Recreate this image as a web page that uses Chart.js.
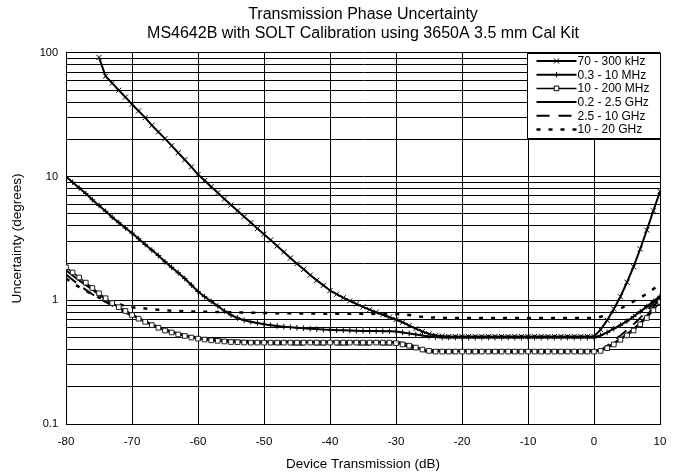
<!DOCTYPE html>
<html><head><meta charset="utf-8">
<script src="https://cdn.jsdelivr.net/npm/chart.js@4/dist/chart.umd.min.js"></script>
<style>html,body{margin:0;padding:0;background:#fff}canvas{display:block}</style>
</head><body>
<canvas id="c" width="678" height="476"></canvas>
<script>
const titleLines = ['Transmission Phase Uncertainty', 'MS4642B with SOLT Calibration using 3650A 3.5 mm Cal Kit'];
const xAxisTitle = 'Device Transmission (dB)';
const yAxisTitle = 'Uncertainty (degrees)';
const seriesNames = ['70 - 300 kHz', '0.3 - 10 MHz', '10 - 200 MHz', '0.2 - 2.5 GHz', '2.5 - 10 GHz', '10 - 20 GHz'];
const yTickValues = [0.1,0.2,0.3,0.4,0.5,0.6,0.7,0.8,0.9,1,2,3,4,5,6,7,8,9,10,20,30,40,50,60,70,80,90,100];
const yTickLabels = [0.1, 1, 10, 100];

// 1 dB grid used by the marker series
const dB = [-80,-79,-78,-77,-76,-75,-74,-73,-72,-71,-70,-69,-68,-67,-66,-65,-64,-63,-62,-61,
  -60,-59,-58,-57,-56,-55,-54,-53,-52,-51,-50,-49,-48,-47,-46,-45,-44,-43,-42,-41,
  -40,-39,-38,-37,-36,-35,-34,-33,-32,-31,-30,-29,-28,-27,-26,-25,-24,-23,-22,-21,
  -20,-19,-18,-17,-16,-15,-14,-13,-12,-11,-10,-9,-8,-7,-6,-5,-4,-3,-2,-1,
  0,1,2,3,4,5,6,7,8,9,10];

const kHz300 = [null,null,null,null,null,92,65,57,50,44,
  38.5,34,30,26,23,20.3,17.8,15.6,13.7,12,
  10.4,9.3,8.3,7.4,6.6,5.9,5.3,4.75,4.25,3.8,
  3.42,3.07,2.75,2.46,2.2,1.98,1.78,1.6,1.45,1.32,
  1.2,1.12,1.05,0.99,0.935,0.885,0.84,0.8,0.765,0.73,
  0.7,0.665,0.625,0.59,0.56,0.535,0.52,0.515,0.51,0.51,
  0.51,0.51,0.51,0.51,0.51,0.51,0.51,0.51,0.51,0.51,
  0.51,0.51,0.51,0.51,0.51,0.51,0.51,0.51,0.51,0.51,
  0.51,0.58,0.69,0.85,1.07,1.4,1.87,2.6,3.7,5.3,7.6];

const MHz10 = [10,9.0,8.1,7.3,6.5,5.85,5.25,4.7,4.25,3.85,
  3.5,3.15,2.83,2.55,2.3,2.05,1.85,1.67,1.5,1.33,
  1.18,1.07,0.98,0.9,0.82,0.76,0.72,0.69,0.67,0.655,
  0.64,0.63,0.62,0.612,0.605,0.6,0.595,0.59,0.585,0.58,
  0.577,0.574,0.572,0.57,0.568,0.566,0.565,0.564,0.563,0.562,
  0.56,0.55,0.54,0.53,0.52,0.51,0.505,0.5,0.5,0.5,
  0.5,0.5,0.5,0.5,0.5,0.5,0.5,0.5,0.5,0.5,
  0.5,0.5,0.5,0.5,0.5,0.5,0.5,0.5,0.5,0.5,
  0.5,0.52,0.55,0.59,0.63,0.68,0.74,0.81,0.89,0.98,1.08];

const MHz200 = [1.85,1.68,1.53,1.39,1.26,1.14,1.04,0.95,0.88,0.82,
  0.76,0.71,0.67,0.63,0.6,0.57,0.55,0.53,0.515,0.5,
  0.49,0.482,0.475,0.47,0.465,0.46,0.458,0.456,0.455,0.455,
  0.455,0.455,0.455,0.455,0.455,0.455,0.455,0.455,0.455,0.455,
  0.455,0.455,0.455,0.455,0.455,0.455,0.455,0.455,0.455,0.455,
  0.45,0.44,0.43,0.415,0.4,0.39,0.385,0.385,0.385,0.385,
  0.385,0.385,0.385,0.385,0.385,0.385,0.385,0.385,0.385,0.385,
  0.385,0.385,0.385,0.385,0.385,0.385,0.385,0.385,0.385,0.385,
  0.385,0.39,0.41,0.44,0.48,0.52,0.57,0.64,0.72,0.83,0.97];

// sparser readings for the unmarked curves
const dBG = [-80,-78,-76,-74,-72,-70,-68,-66,-64,-62,-60,-55,-50,-45,-40,-35,-30,-28,-26,-24,-20,-10,0,2,4,6,8,10];
const GHz2_5 = [1.75,1.45,1.22,1.02,0.88,0.77,0.68,0.61,0.56,0.525,0.5,0.475,0.465,0.465,0.465,0.465,0.46,0.44,0.405,0.39,0.388,0.388,0.388,0.42,0.49,0.59,0.75,1.05];
const GHz10 = [1.62,1.33,1.12,0.97,0.85,0.75,0.67,0.6,0.55,0.515,0.49,0.46,0.445,0.44,0.44,0.44,0.44,0.42,0.39,0.38,0.378,0.378,0.378,0.43,0.52,0.64,0.82,1.1];
const GHz20 = [1.5,1.28,1.12,1.0,0.93,0.88,0.86,0.84,0.825,0.815,0.81,0.8,0.79,0.785,0.78,0.78,0.775,0.76,0.735,0.725,0.72,0.72,0.72,0.77,0.86,0.98,1.13,1.36];

const FONT = "'Liberation Sans', Arial, sans-serif";
Chart.defaults.font.family = FONT;
Chart.defaults.color = '#000';

function pts(xs, ys) { return xs.map((x, i) => ({x: x, y: ys[i]})); }

const datasets = [
  {label: seriesNames[0], data: pts(dB, kHz300), borderColor: '#000', borderWidth: 2, pointStyle: 'crossRot', pointRadius: 3.6, pointBorderWidth: 1, pointBorderColor: '#000', borderDash: []},
  {label: seriesNames[1], data: pts(dB, MHz10), borderColor: '#000', borderWidth: 2, pointStyle: 'cross', pointRadius: 2.8, pointBorderWidth: 1, pointBorderColor: '#000', borderDash: []},
  {label: seriesNames[2], data: pts(dB, MHz200), borderColor: '#000', borderWidth: 1.5, pointStyle: 'rect', pointRadius: 3.3, pointBorderWidth: 1, pointBorderColor: '#222', pointBackgroundColor: '#fff', borderDash: []},
  {label: seriesNames[3], data: pts(dBG, GHz2_5), borderColor: '#000', borderWidth: 2, pointRadius: 0, borderDash: [], cubicInterpolationMode: 'monotone'},
  {label: seriesNames[4], data: pts(dBG, GHz10), borderColor: '#000', borderWidth: 2, pointRadius: 0, borderDash: [13, 9], cubicInterpolationMode: 'monotone'},
  {label: seriesNames[5], data: pts(dBG, GHz20), borderColor: '#000', borderWidth: 2.5, pointRadius: 0, borderDash: [4, 8], cubicInterpolationMode: 'monotone'}
];

const boxLegend = {
  id: 'boxLegend',
  afterDatasetsDraw(chart) {
    const ctx = chart.ctx, a = chart.chartArea;
    const w = 133, h = 85;
    const x0 = Math.round(a.right - w) + 0.5, y0 = Math.round(a.top) + 0.5;
    ctx.save();
    ctx.fillStyle = '#fff';
    ctx.fillRect(x0, y0, w, h);
    ctx.strokeStyle = '#000'; ctx.lineWidth = 1; ctx.setLineDash([]);
    ctx.strokeRect(x0, y0, w, h);
    chart.data.datasets.forEach((ds, i) => {
      const y = y0 + 7.5 + i * 13.7;
      const lx0 = x0 + 9, lx1 = x0 + 49;
      ctx.save();
      ctx.strokeStyle = '#000';
      ctx.lineWidth = ds.borderWidth;
      ctx.setLineDash(ds.borderDash || []);
      ctx.beginPath(); ctx.moveTo(lx0, y); ctx.lineTo(lx1, y); ctx.stroke();
      ctx.setLineDash([]);
      if (ds.pointRadius > 0) {
        ctx.lineWidth = 1;
        ctx.fillStyle = ds.pointBackgroundColor || '#000';
        Chart.helpers.drawPoint(ctx, {pointStyle: ds.pointStyle, radius: ds.pointRadius, borderWidth: 1, rotation: 0}, (lx0 + lx1) / 2, y);
      }
      ctx.restore();
      ctx.fillStyle = '#000';
      ctx.font = '12px ' + FONT;
      ctx.textBaseline = 'middle';
      ctx.textAlign = 'left';
      ctx.fillText(ds.label, lx1 + 1, y + 0.5);
    });
    ctx.restore();
  }
};

new Chart(document.getElementById('c'), {
  type: 'line',
  data: {datasets: datasets},
  plugins: [boxLegend],
  options: {
    responsive: false,
    animation: false,
    devicePixelRatio: 1,
    layout: {padding: {left: 0, right: 18, top: 0, bottom: 0}},
    plugins: {
      legend: {display: false},
      tooltip: {enabled: false},
      title: {
        display: true, text: titleLines, fullSize: false, color: '#000',
        font: {size: 16, weight: 'normal', family: FONT, lineHeight: 1.19},
        padding: {top: 5.5, bottom: 9.4}
      }
    },
    scales: {
      x: {
        type: 'linear', min: -80, max: 10,
        ticks: {stepSize: 10, autoSkip: false, maxRotation: 0, padding: 11, font: {size: 11.5}, color: '#000'},
        grid: {color: '#000', lineWidth: 1, drawTicks: false},
        border: {display: true, color: '#000', width: 1},
        title: {display: true, text: xAxisTitle, font: {size: 13.5}, color: '#000', padding: {top: 0, bottom: 4}},
        afterFit(s) { s.height = 52; }
      },
      y: {
        type: 'logarithmic', min: 0.1, max: 100,
        afterBuildTicks(s) { s.ticks = yTickValues.map(v => ({value: v})); },
        ticks: {autoSkip: false, padding: 8, font: {size: 11}, color: '#000',
          callback: (v) => yTickLabels.includes(v) ? String(v) : ''},
        grid: {color: '#000', lineWidth: 1, drawTicks: false},
        border: {display: true, color: '#000', width: 1},
        title: {display: true, text: yAxisTitle, font: {size: 13.5}, color: '#000', padding: {top: 9, bottom: 0}},
        afterFit(s) { s.width = 66; }
      }
    }
  }
});
</script>
</body></html>
